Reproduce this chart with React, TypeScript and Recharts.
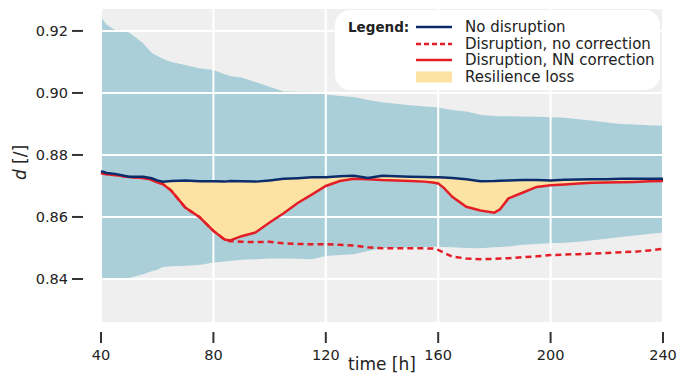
import React from 'react';
import { ComposedChart, Area, Line, XAxis, YAxis, CartesianGrid } from 'recharts';

const time = [40, 42, 45, 50, 55, 58, 60, 62, 65, 70, 75, 80, 84, 86, 90, 95, 100, 105, 110, 115, 120, 125, 130, 135, 140, 145, 150, 155, 158, 160, 162, 165, 170, 175, 180, 182, 185, 190, 195, 200, 205, 210, 215, 220, 225, 230, 235, 240];
const bandHigh = [0.9245, 0.922, 0.9203, 0.9195, 0.916, 0.913, 0.912, 0.911, 0.91, 0.909, 0.908, 0.9074, 0.906, 0.9055, 0.905, 0.9035, 0.902, 0.9005, 0.9004, 0.9003, 0.8995, 0.899, 0.8987, 0.8977, 0.897, 0.8965, 0.896, 0.8956, 0.8955, 0.8953, 0.895, 0.8945, 0.894, 0.893, 0.8926, 0.8925, 0.8925, 0.8924, 0.8923, 0.8922, 0.892, 0.8915, 0.891, 0.8905, 0.89, 0.8898, 0.8896, 0.8894];
const bandLow = [0.8397, 0.8397, 0.8403, 0.8403, 0.8415, 0.8425, 0.843, 0.8439, 0.8441, 0.8443, 0.8445, 0.8453, 0.8456, 0.8458, 0.8462, 0.8464, 0.8466, 0.8466, 0.8465, 0.8464, 0.8474, 0.8477, 0.848, 0.849, 0.85, 0.85, 0.8502, 0.8503, 0.8504, 0.8504, 0.8503, 0.8502, 0.85, 0.8499, 0.8502, 0.8503, 0.8505, 0.851, 0.8513, 0.8515, 0.8517, 0.852, 0.8525, 0.853, 0.8535, 0.854, 0.8545, 0.855];
const noDisruption = [0.8748, 0.8742, 0.8739, 0.873, 0.873, 0.8725, 0.8718, 0.8714, 0.8716, 0.8718, 0.8715, 0.8715, 0.8714, 0.8716, 0.8715, 0.8714, 0.8718, 0.8723, 0.8725, 0.8728, 0.8728, 0.8731, 0.8733, 0.8726, 0.8733, 0.8731, 0.873, 0.8729, 0.8728, 0.8728, 0.8727, 0.8726, 0.8722, 0.8715, 0.8716, 0.8717, 0.8718, 0.8719, 0.8719, 0.8718, 0.872, 0.8721, 0.8722, 0.8722, 0.8723, 0.8723, 0.8723, 0.8723];
const noCorrection = [0.8742, 0.8738, 0.8735, 0.8729, 0.8726, 0.872, 0.8712, 0.8706, 0.8685, 0.863, 0.86, 0.8555, 0.8527, 0.8522, 0.852, 0.8519, 0.852, 0.8515, 0.8513, 0.8512, 0.8512, 0.851, 0.8508, 0.8502, 0.8499, 0.8499, 0.8499, 0.8499, 0.8498, 0.8494, 0.8485, 0.8472, 0.8466, 0.8464, 0.8465, 0.8466, 0.8467, 0.847, 0.8473, 0.8477, 0.8479, 0.848, 0.8482, 0.8484, 0.8486, 0.8488, 0.8492, 0.8497];
const nnCorrection = [0.8742, 0.8738, 0.8735, 0.8729, 0.8726, 0.872, 0.8712, 0.8706, 0.8685, 0.863, 0.86, 0.8555, 0.8527, 0.8524, 0.8538, 0.855, 0.8582, 0.8612, 0.8645, 0.8672, 0.87, 0.8716, 0.8723, 0.8722, 0.8719, 0.8718, 0.8716, 0.8714, 0.8711, 0.8708, 0.8694, 0.8665, 0.8633, 0.8621, 0.8614, 0.8625, 0.866, 0.8678, 0.8697, 0.8702, 0.8705, 0.8708, 0.871, 0.8711, 0.8712, 0.8713, 0.8715, 0.8716];

const xTicks = [40, 80, 120, 160, 200, 240];
const yTicks = [0.84, 0.86, 0.88, 0.9, 0.92];

const legendItems = [
  { label: 'No disruption', kind: 'line', color: '#0c2d6b', dash: '' },
  { label: 'Disruption, no correction', kind: 'line', color: '#e31e26', dash: '5 3' },
  { label: 'Disruption, NN correction', kind: 'line', color: '#e31e26', dash: '' },
  { label: 'Resilience loss', kind: 'area', color: '#fde3a3', dash: '' },
];

const FONT = '"DejaVu Sans", sans-serif';

const data = time.map((t, i) => ({
  t,
  band: [bandLow[i], bandHigh[i]],
  loss: [nnCorrection[i], noDisruption[i]],
  nd: noDisruption[i],
  nc: noCorrection[i],
  nn: nnCorrection[i],
}));

const YTick = ({ x, y, payload }: any) => (
  <g>
    <line x1={x - 29} x2={x - 18} y1={y} y2={y} stroke="#333" strokeWidth={2} />
    <text x={x - 33} y={y} dy={5} textAnchor="end" fontSize={14.5} fontFamily={FONT} fill="#222">
      {payload.value.toFixed(2)}
    </text>
  </g>
);

const XTick = ({ x, y, payload }: any) => (
  <g>
    <line x1={x} x2={x} y1={y + 9} y2={y + 20} stroke="#333" strokeWidth={2} />
    <text x={x} y={y + 37} textAnchor="middle" fontSize={14.5} fontFamily={FONT} fill="#222">
      {payload.value}
    </text>
  </g>
);

const YLabel = ({ viewBox }: any) => {
  const cx = 26;
  const cy = viewBox.y + viewBox.height / 2 - 3;
  return (
    <text x={cx} y={cy} transform={`rotate(-90 ${cx} ${cy})`} textAnchor="middle" fontSize={17} fontFamily={FONT} fill="#222">
      <tspan fontStyle="italic">d</tspan> [/]
    </text>
  );
};

function ChartLegend() {
  return (
    <div style={{ position: 'absolute', left: 335, top: 10, width: 325, height: 80, background: '#fff', borderRadius: 15, fontFamily: FONT, fontSize: 15, color: '#222' }}>
      {legendItems.map((item, i) => (
        <div key={item.label} style={{ position: 'absolute', left: 0, top: 8 + i * 16.7, height: 18, width: 325, lineHeight: '18px' }}>
          {i === 0 && <span style={{ position: 'absolute', left: 13, fontWeight: 'bold', fontSize: 13.5 }}>Legend:</span>}
          <svg width={36} height={18} style={{ position: 'absolute', left: 81, top: 0 }}>
            {item.kind === 'line' ? (
              <line x1={0} x2={36} y1={9} y2={9} stroke={item.color} strokeWidth={2.5} strokeDasharray={item.dash || undefined} />
            ) : (
              <rect x={0} y={3.5} width={36} height={11} fill={item.color} />
            )}
          </svg>
          <span style={{ position: 'absolute', left: 130, whiteSpace: 'nowrap' }}>{item.label}</span>
        </div>
      ))}
    </div>
  );
}

export default function App() {
  return (
    <div style={{ position: 'absolute', left: 0, top: 0, width: 679, height: 373 }}>
      <ComposedChart width={679} height={373} data={data} margin={{ top: 8, right: 16, bottom: 0, left: 0 }}>
        <CartesianGrid fill="#efefef" stroke="none" />
        <XAxis
          dataKey="t"
          type="number"
          domain={[40, 240]}
          ticks={xTicks}
          height={50}
          axisLine={false}
          tickLine={false}
          tickSize={0}
          tickMargin={0}
          tick={<XTick />}
          label={{ value: 'time [h]', position: 'insideBottom', offset: 3, fontSize: 17, fontFamily: FONT, fill: '#222' }}
        />
        <YAxis
          type="number"
          domain={[0.8258, 0.9274]}
          ticks={yTicks}
          width={101}
          axisLine={false}
          tickLine={false}
          tickSize={0}
          tickMargin={0}
          tick={<YTick />}
          allowDataOverflow
          label={<YLabel />}
        />
        <Area dataKey="band" type="linear" stroke="none" fill="#aacfd9" fillOpacity={1} isAnimationActive={false} zIndex={50} />
        <CartesianGrid stroke="#fff" strokeWidth={2} fill="none" zIndex={60} />
        <Area dataKey="loss" type="linear" stroke="none" fill="#fde3a3" fillOpacity={1} isAnimationActive={false} />
        <Line dataKey="nc" type="linear" stroke="#e31e26" strokeWidth={2.5} strokeDasharray="6 4" dot={false} isAnimationActive={false} />
        <Line dataKey="nn" type="linear" stroke="#e31e26" strokeWidth={2.5} dot={false} isAnimationActive={false} />
        <Line dataKey="nd" type="linear" stroke="#0c2d6b" strokeWidth={2.5} dot={false} isAnimationActive={false} />
      </ComposedChart>
      <ChartLegend />
    </div>
  );
}
